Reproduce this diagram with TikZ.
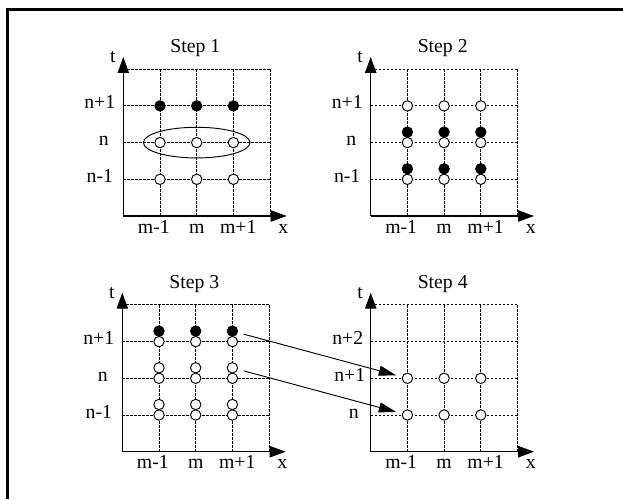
\documentclass[tikz,border=0pt]{standalone}
\usepackage{fontspec}
\setmainfont{Liberation Serif}
\usetikzlibrary{arrows.meta}
\begin{document}
\begin{tikzpicture}[x=0.75pt,y=-0.75pt,
  gridln/.style={line width=0.65pt, dash pattern=on 1.9pt off 1.1pt},
  axisln/.style={line width=0.9pt, -{Triangle[length=12pt,width=8.5pt]}},
  wdot/.style={circle, draw, fill=white, line width=0.7pt, minimum size=7.8pt, inner sep=0pt},
  bdot/.style={wdot, fill=black},
  lbl/.style={font=\fontsize{14.8}{17}\selectfont, inner sep=0pt},
  rowlbl/.style={lbl, anchor=mid},
  collbl/.style={lbl, anchor=base},
  link/.style={line width=0.7pt, -{Triangle[length=13pt,width=7.5pt]}, shorten <=4.5pt, shorten >=4.5pt},
  frameln/.style={line width=2.2pt}
]
\useasboundingbox (0,0) rectangle (623,499);
\coordinate (fa) at (623,9.5);
\coordinate (fb) at (7.5,9.5);
\coordinate (fc) at (7.5,499);
\draw[frameln] (fa) -- (fb) -- (fc);

% grids, axes and common labels
\foreach \p/\ox/\oy in {1/123.3/216, 2/370.7/216, 3/122.3/451.7, 4/370.7/451.7} {
  \begin{scope}[shift={(\ox,\oy)}]
    \foreach \i in {1,...,4} {
      \draw[gridln] (\i*36.7,0) -- (\i*36.7,-146.8);
      \draw[gridln] (0,-\i*36.7) -- (146.8,-\i*36.7);
    }
    \coordinate (o\p) at (0,0);
    \coordinate (t\p) at (0,-159);
    \coordinate (x\p) at (163.4,0);
    \draw[axisln] (o\p) -- (t\p);
    \draw[axisln] (o\p) -- (x\p);
    \node[collbl] (tl\p) at (-10.5,-153) {t};
    \node[collbl] (xl\p) at (160,17) {x};
    \node[collbl] (title\p) at (72,-163) {Step \p};
    \node[collbl] (ma\p) at (30.5,17) {m-1};
    \node[collbl] (mb\p) at (73.4,17) {m};
    \node[collbl] (mc\p) at (114.9,17) {m+1};
  \end{scope}
}

% Step 1
\begin{scope}[shift={(123.3,216)}]
  \draw[line width=0.7pt] (73.4,-73.4) ellipse [x radius=40pt, y radius=11.5pt];
  \foreach \j in {1,2,3} {
    \node[bdot] (s1-\j-3) at (\j*36.7,-110.1) {};
    \node[wdot] (s1-\j-2) at (\j*36.7,-73.4) {};
    \node[wdot] (s1-\j-1) at (\j*36.7,-36.7) {};
  }
  \node[rowlbl] (r1a) at (-23.5,-110.1) {n+1};
  \node[rowlbl] (r1b) at (-19.5,-73.4) {n};
  \node[rowlbl] (r1c) at (-23.5,-36.7) {n-1};
\end{scope}

% Step 2
\begin{scope}[shift={(370.7,216)}]
  \foreach \j in {1,2,3} {
    \node[wdot] (s2-\j-3) at (\j*36.7,-110.1) {};
    \node[wdot] (s2-\j-2) at (\j*36.7,-73.4) {};
    \node[wdot] (s2-\j-1) at (\j*36.7,-36.7) {};
    \node[bdot] (s2-\j-2b) at (\j*36.7,-83.9) {};
    \node[bdot] (s2-\j-1b) at (\j*36.7,-47.2) {};
  }
  \node[rowlbl] (r2a) at (-23.5,-110.1) {n+1};
  \node[rowlbl] (r2b) at (-19.5,-73.4) {n};
  \node[rowlbl] (r2c) at (-23.5,-36.7) {n-1};
\end{scope}

% Step 3
\begin{scope}[shift={(122.3,451.7)}]
  \foreach \j in {1,2,3} {
    \node[wdot] (s3-\j-3) at (\j*36.7,-110.1) {};
    \node[wdot] (s3-\j-2) at (\j*36.7,-73.4) {};
    \node[wdot] (s3-\j-1) at (\j*36.7,-36.7) {};
    \node[bdot] (s3-\j-3b) at (\j*36.7,-120.6) {};
    \node[wdot] (s3-\j-2b) at (\j*36.7,-83.9) {};
    \node[wdot] (s3-\j-1b) at (\j*36.7,-47.2) {};
  }
  \node[rowlbl] (r3a) at (-23.5,-110.1) {n+1};
  \node[rowlbl] (r3b) at (-19.5,-73.4) {n};
  \node[rowlbl] (r3c) at (-23.5,-36.7) {n-1};
\end{scope}

% Step 4
\begin{scope}[shift={(370.7,451.7)}]
  \foreach \j in {1,2,3} {
    \node[wdot] (s4-\j-2) at (\j*36.7,-73.4) {};
    \node[wdot] (s4-\j-1) at (\j*36.7,-36.7) {};
  }
  \node[rowlbl] (r4a) at (-23,-110.1) {n+2};
  \node[rowlbl] (r4b) at (-21,-73.4) {n+1};
  \node[rowlbl] (r4c) at (-17,-36.7) {n};
\end{scope}

% transfer arrows
\draw[link] (s3-3-3b) -- (s4-1-2);
\draw[link] (s3-3-2b) -- (s4-1-1);
\end{tikzpicture}
\end{document}
